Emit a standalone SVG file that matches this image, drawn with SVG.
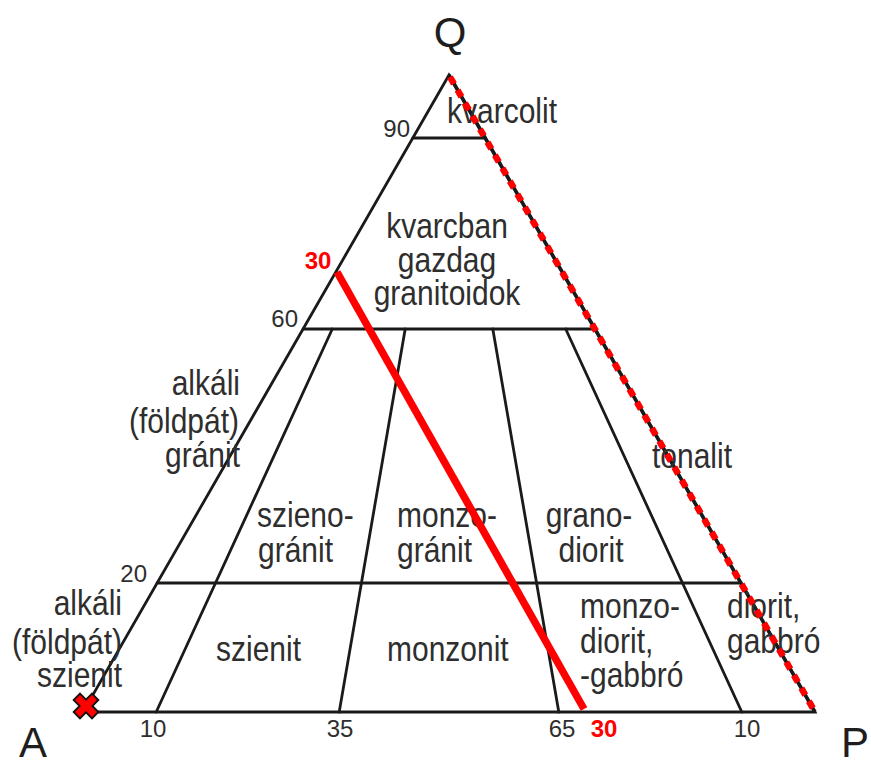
<svg xmlns="http://www.w3.org/2000/svg" width="871" height="765" viewBox="0 0 871 765">
<style>
.ln{stroke:#1a1a1a;stroke-width:2.8;fill:none;stroke-linecap:round}
.lb{font-family:"Liberation Sans",Arial,sans-serif;font-size:30px;fill:#2e2e2e}
.num{font-family:"Liberation Sans",Arial,sans-serif;font-size:24px;fill:#2e2e2e}
.corner{font-family:"Liberation Sans",Arial,sans-serif;font-size:42px;fill:#1e1e1e}
.rnum{font-family:"Liberation Sans",Arial,sans-serif;font-size:24px;font-weight:bold;fill:#ff0000}
.c{text-anchor:middle}
.e{text-anchor:end}
</style>
<rect width="871" height="765" fill="#ffffff"/>
<g id="connectors">
<polygon class="ln" points="449,75 83,712 815,712" stroke-linejoin="miter"/>
<line class="ln" x1="412.8" y1="138" x2="485.2" y2="138"/>
<line class="ln" x1="303.1" y1="329" x2="594.9" y2="329"/>
<line class="ln" x1="157.1" y1="583" x2="740.9" y2="583"/>
<line class="ln" x1="156.2" y1="712" x2="332.3" y2="329"/>
<line class="ln" x1="339.2" y1="712" x2="405.2" y2="329"/>
<line class="ln" x1="558.8" y1="712" x2="492.8" y2="329"/>
<line class="ln" x1="741.8" y1="712" x2="565.7" y2="329"/>
<line x1="449" y1="75" x2="815" y2="712" stroke="#1a1a1a" stroke-width="3.6"/>
</g>
<g id="corner-Q"><text class="corner c" x="450" y="47">Q</text></g>
<g id="corner-A"><text class="corner" x="19" y="757">A</text></g>
<g id="corner-P"><text class="corner" x="841" y="757">P</text></g>
<g id="scale">
<text class="num e" x="410" y="137">90</text>
<text class="num e" x="298" y="327">60</text>
<text class="num e" x="147" y="582">20</text>
<text class="num c" x="153" y="737">10</text>
<text class="num c" x="340" y="737">35</text>
<text class="num c" x="562" y="737">65</text>
<text class="num c" x="747" y="737">10</text>
</g>
<g id="kvarcolit"><text class="lb c" transform="matrix(1,0,0,1.18,502,123)">kvarcolit</text></g>
<g id="kvarcban-gazdag"><text class="lb c" transform="matrix(1,0,0,1.18,447,238)">kvarcban</text><text class="lb c" transform="matrix(1,0,0,1.18,447,272)">gazdag</text><text class="lb c" transform="matrix(1,0,0,1.18,447,305)">granitoidok</text></g>
<g id="alkali-granit"><text class="lb e" transform="matrix(1,0,0,1.18,240,395)">alkáli</text><text class="lb e" transform="matrix(1,0,0,1.18,239,433)">(földpát)</text><text class="lb e" transform="matrix(1,0,0,1.18,240,467)">gránit</text></g>
<g id="alkali-szienit"><text class="lb e" transform="matrix(1,0,0,1.18,122,615)">alkáli</text><text class="lb e" transform="matrix(1,0,0,1.18,122,654)">(földpát)</text><text class="lb e" transform="matrix(1,0,0,1.18,122,687)">szienit</text></g>
<g id="szienogranit"><text class="lb" transform="matrix(1,0,0,1.18,257,527)">szieno-</text><text class="lb" transform="matrix(1,0,0,1.18,258,562)">gránit</text></g>
<g id="monzogranit"><text class="lb" transform="matrix(1,0,0,1.18,397,527)">monzo-</text><text class="lb" transform="matrix(1,0,0,1.18,397,562)">gránit</text></g>
<g id="granodiorit"><text class="lb c" transform="matrix(1,0,0,1.18,589,527)">grano-</text><text class="lb c" transform="matrix(1,0,0,1.18,591,562)">diorit</text></g>
<g id="tonalit"><text class="lb" transform="matrix(1,0,0,1.18,652,468)">tonalit</text></g>
<g id="szienit"><text class="lb" transform="matrix(1,0,0,1.18,216,661)">szienit</text></g>
<g id="monzonit"><text class="lb" transform="matrix(1,0,0,1.18,387,661)">monzonit</text></g>
<g id="monzodiorit"><text class="lb" transform="matrix(1,0,0,1.18,580,618)">monzo-</text><text class="lb" transform="matrix(1,0,0,1.18,580,653)">diorit,</text><text class="lb" transform="matrix(1,0,0,1.18,580,687)">-gabbró</text></g>
<g id="diorit-gabbro"><text class="lb" transform="matrix(1,0,0,1.18,727,618)">diorit,</text><text class="lb" transform="matrix(1,0,0,1.18,727,653)">gabbró</text></g>
<g id="red-marks">
<line x1="337" y1="272" x2="584" y2="709" stroke="#ff0000" stroke-width="7.5"/>
<line x1="450" y1="77" x2="815" y2="712" stroke="#ff0000" stroke-width="6.5" stroke-dasharray="8 7"/>
<text class="rnum c" x="318" y="269">30</text>
<text class="rnum c" x="604" y="737">30</text>
<polygon points="-4.5,-13 4.5,-13 4.5,-4.5 13,-4.5 13,4.5 4.5,4.5 4.5,13 -4.5,13 -4.5,4.5 -13,4.5 -13,-4.5 -4.5,-4.5" transform="translate(86,706) rotate(45)" fill="#ff0000" stroke="#111" stroke-width="1.8" stroke-linejoin="miter"/>
</g>
</svg>
